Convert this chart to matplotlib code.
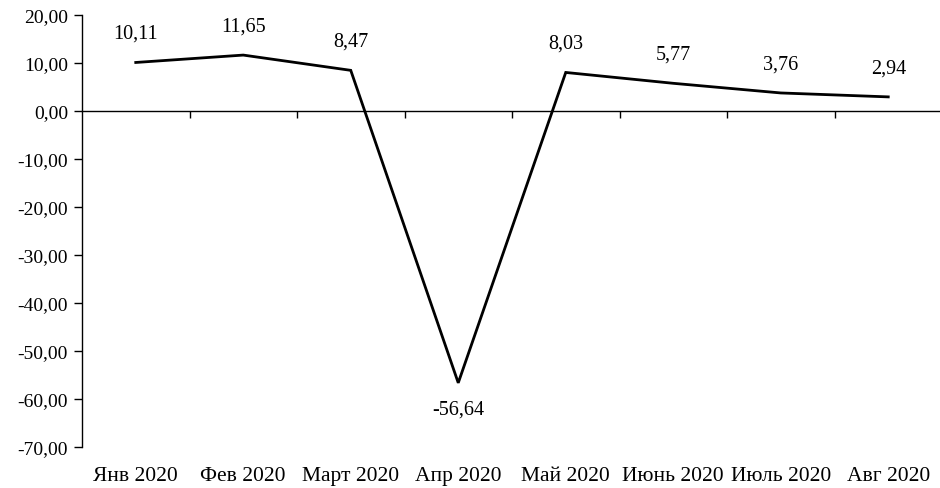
import numpy as np
import matplotlib.pyplot as plt

plt.rcParams['font.family'] = ['Liberation Serif', 'DejaVu Serif']

months = ['Янв 2020', 'Фев 2020', 'Март 2020', 'Апр 2020',
          'Май 2020', 'Июнь 2020', 'Июль 2020', 'Авг 2020']
values = [10.11, 11.65, 8.47, -56.64, 8.03, 5.77, 3.76, 2.94]
y_ticks = np.arange(-70, 21, 10)

fig = plt.figure(figsize=(9.4, 4.89), dpi=100)
ax = fig.add_axes([82 / 940, 1 - 448 / 489, 860 / 940, 432 / 489])

x = np.arange(len(months))
ax.plot(x, values, color='black', lw=2.0, solid_joinstyle='miter')

# подписи значений
for xi, v in zip(x, values):
    lbl = f'{v:.2f}'.replace('.', ',')
    if v < 0:
        ax.annotate(lbl, (xi, v), xytext=(0, -12), textcoords='offset points',
                    ha='center', va='top', fontsize=14.5)
    else:
        ax.annotate(lbl, (xi, v), xytext=(0, 14), textcoords='offset points',
                    ha='center', va='bottom', fontsize=14.5)

ax.set_xlim(-0.5, len(months) - 0.5)
ax.set_ylim(-70, 20)
ax.set_yticks(y_ticks)
ax.set_yticklabels([f'{t:.2f}'.replace('.', ',') for t in y_ticks], fontsize=14)

# ось X проходит через ноль
ax.spines[['top', 'right']].set_visible(False)
ax.spines['bottom'].set_position(('data', 0))
ax.spines['bottom'].set_linewidth(1.0)
ax.spines['left'].set_linewidth(1.0)
ax.tick_params(axis='y', direction='out', length=6, width=1.0, pad=4)
ax.set_xticks(np.arange(0.5, len(months) - 0.5, 1))
ax.tick_params(axis='x', direction='out', length=5, width=1.0, labelbottom=False)

# названия месяцев под графиком
for xi, m in zip(x, months):
    ax.annotate(m, (xi, -70), xytext=(0, -14), textcoords='offset points',
                ha='center', va='top', fontsize=15.5)

fig.savefig('out.png', dpi=100)
